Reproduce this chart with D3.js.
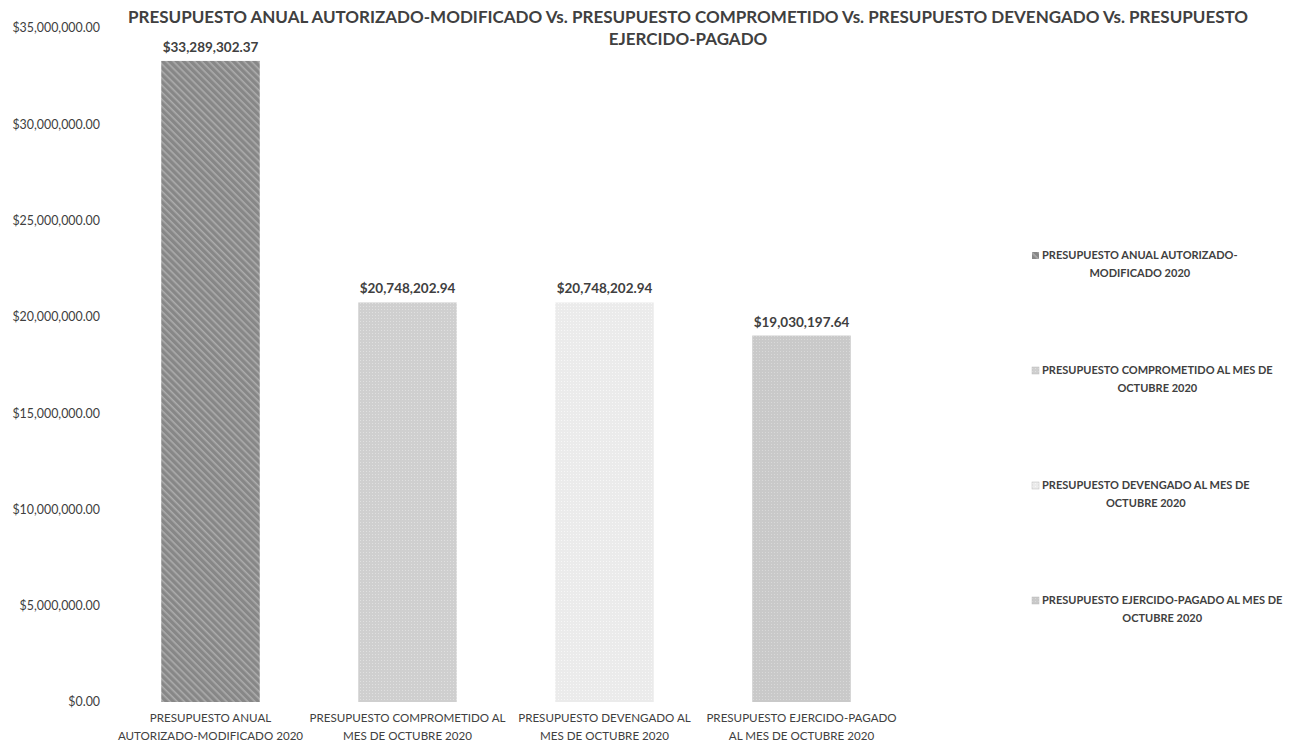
<!DOCTYPE html>
<html>
<head>
<meta charset="utf-8">
<script src="https://cdn.jsdelivr.net/npm/d3@7"></script>
<style>
  body { margin: 0; background: #fff; }
  text { font-family: Lato, "Open Sans", sans-serif; fill: #404040; }
</style>
</head>
<body>
<div id="chart"></div>
<script>
const categories = [
  ['PRESUPUESTO ANUAL', 'AUTORIZADO-MODIFICADO 2020'],
  ['PRESUPUESTO COMPROMETIDO AL', 'MES DE OCTUBRE 2020'],
  ['PRESUPUESTO DEVENGADO AL', 'MES DE OCTUBRE 2020'],
  ['PRESUPUESTO EJERCIDO-PAGADO', 'AL MES DE OCTUBRE 2020']
];
const values = [33289302.37, 20748202.94, 20748202.94, 19030197.64];
const legendLabels = [
  ['PRESUPUESTO ANUAL AUTORIZADO-', 'MODIFICADO 2020'],
  ['PRESUPUESTO COMPROMETIDO AL MES DE', 'OCTUBRE 2020'],
  ['PRESUPUESTO DEVENGADO AL MES DE', 'OCTUBRE 2020'],
  ['PRESUPUESTO EJERCIDO-PAGADO AL MES DE', 'OCTUBRE 2020']
];
const titleLines = [
  'PRESUPUESTO ANUAL AUTORIZADO-MODIFICADO Vs. PRESUPUESTO COMPROMETIDO Vs. PRESUPUESTO DEVENGADO Vs. PRESUPUESTO',
  'EJERCIDO-PAGADO'
];
const yTicks = [0, 5000000, 10000000, 15000000, 20000000, 25000000, 30000000, 35000000];

const width = 1296, height = 744;
const margin = { top: 28, left: 112, right: 396, bottom: 42 };

const svg = d3.select('#chart')
  .append('svg')
  .attr('width', width)
  .attr('height', height);

const defs = svg.append('defs');

// hatched fill for the first bar
const p1 = defs.append('pattern')
  .attr('id', 'pat0')
  .attr('patternUnits', 'userSpaceOnUse')
  .attr('width', 5).attr('height', 5)
  .attr('patternTransform', 'rotate(45)');
p1.append('rect').attr('width', 5).attr('height', 5).attr('fill', '#878787');
p1.append('rect').attr('width', 5).attr('height', 1.6).attr('fill', '#acacac');

// dotted fills for the lighter bars
const fills = [null, ['#cfcfcf', '#e0e0e0'], ['#ebebeb', '#f7f7f7'], ['#c9c9c9', '#d9d9d9']];
fills.forEach((f, i) => {
  if (!f) return;
  const p = defs.append('pattern')
    .attr('id', 'pat' + i)
    .attr('patternUnits', 'userSpaceOnUse')
    .attr('width', 3).attr('height', 3);
  p.append('rect').attr('width', 3).attr('height', 3).attr('fill', f[0]);
  p.append('rect').attr('width', 1).attr('height', 1).attr('fill', f[1]);
});

const x = d3.scaleBand()
  .domain(d3.range(categories.length))
  .range([margin.left, width - margin.right])
  .paddingInner(0.5)
  .paddingOuter(0.25);

const y = d3.scaleLinear()
  .domain([0, 35000000])
  .range([height - margin.bottom, margin.top]);

const fmt = d3.format('$,.2f');

// y axis labels
const yAxis = svg.append('g')
  .attr('transform', `translate(${margin.left - 12},0)`)
  .call(d3.axisLeft(y).tickValues(yTicks).tickFormat(fmt).tickSize(0).tickPadding(0));
yAxis.select('.domain').remove();
yAxis.selectAll('text')
  .style('font-family', 'Lato, "Open Sans", sans-serif')
  .style('font-size', '12.4px')
  .attr('fill', '#404040');

// bars
svg.selectAll('.bar')
  .data(values)
  .enter()
  .append('rect')
  .attr('class', 'bar')
  .attr('x', (d, i) => x(i))
  .attr('width', x.bandwidth())
  .attr('y', (d) => y(d))
  .attr('height', (d) => y(0) - y(d))
  .attr('fill', (d, i) => `url(#pat${i})`);

// value labels
svg.selectAll('.bar-label')
  .data(values)
  .enter()
  .append('text')
  .attr('class', 'bar-label')
  .attr('x', (d, i) => x(i) + x.bandwidth() / 2)
  .attr('y', (d) => y(d) - 9)
  .attr('text-anchor', 'middle')
  .style('font-size', '13.5px')
  .style('font-weight', 'bold')
  .text((d) => fmt(d));

// category labels
const cat = svg.selectAll('.cat')
  .data(categories)
  .enter()
  .append('text')
  .attr('class', 'cat')
  .attr('text-anchor', 'middle')
  .style('font-size', '11.6px');
cat.selectAll('tspan')
  .data((d, i) => d.map((t) => ({ t, i })))
  .enter()
  .append('tspan')
  .attr('x', (d) => x(d.i) + x.bandwidth() / 2)
  .attr('y', (d, j) => 722 + j * 18)
  .text((d) => d.t);

// title
svg.selectAll('.title')
  .data(titleLines)
  .enter()
  .append('text')
  .attr('class', 'title')
  .attr('x', 688)
  .attr('y', (d, i) => 23 + i * 22)
  .attr('text-anchor', 'middle')
  .style('font-size', '17px')
  .style('font-weight', 'bold')
  .text((d) => d);

// legend
const legend = svg.selectAll('.legend')
  .data(legendLabels)
  .enter()
  .append('g')
  .attr('class', 'legend')
  .attr('transform', (d, i) => `translate(0,${259 + i * 115})`);

legend.append('rect')
  .attr('x', 1032)
  .attr('y', -7)
  .attr('width', 7)
  .attr('height', 7)
  .attr('fill', (d, i) => `url(#pat${i})`)
  .attr('stroke', (d, i) => i === 0 ? 'none' : '#bbb')
  .attr('stroke-width', 0.5);

legend.append('text')
  .attr('x', 1042)
  .attr('y', 0)
  .style('font-size', '11px')
  .style('font-weight', 'bold')
  .text((d) => d[0]);

legend.append('text')
  .attr('class', 'legend-2')
  .attr('y', 18)
  .attr('text-anchor', 'middle')
  .style('font-size', '11px')
  .style('font-weight', 'bold')
  .text((d) => d[1]);

// center second line under the first
legend.each(function () {
  const g = d3.select(this);
  const w = g.select('text').node().getComputedTextLength();
  g.select('.legend-2').attr('x', 1042 + w / 2);
});
</script>
</body>
</html>
